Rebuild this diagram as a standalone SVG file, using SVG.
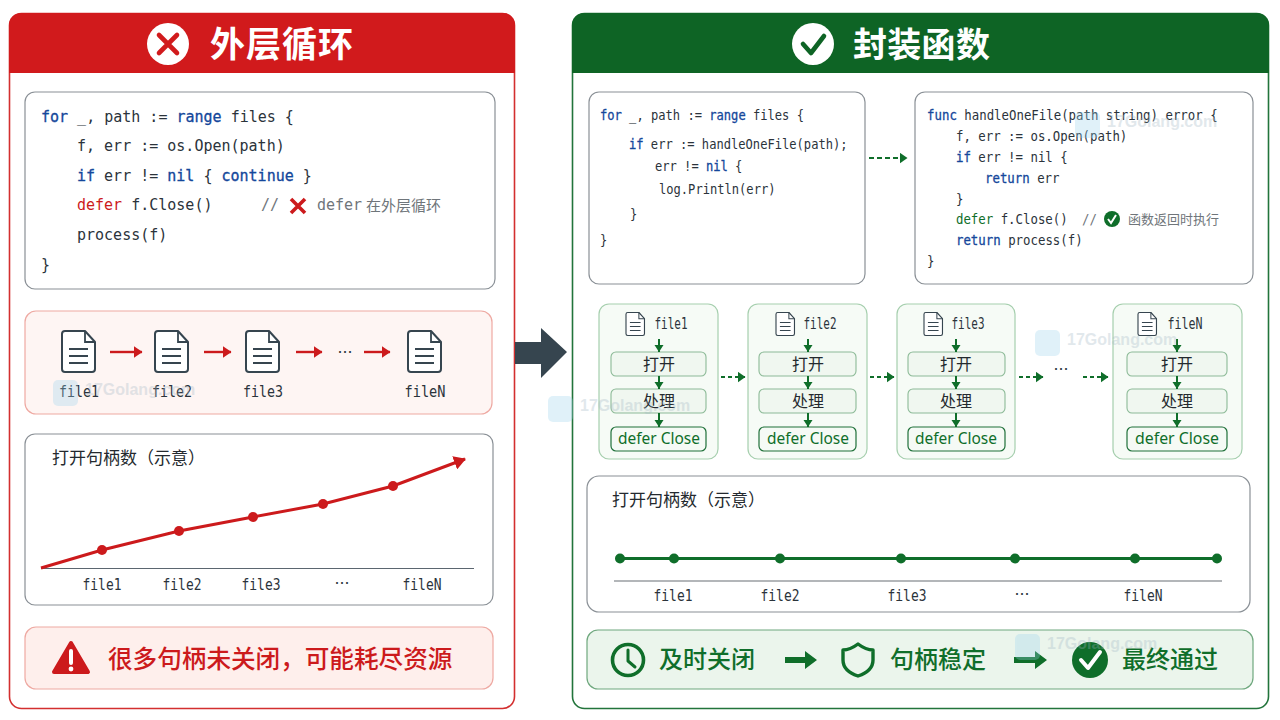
<svg xmlns="http://www.w3.org/2000/svg" width="1280" height="720" viewBox="0 0 1280 720">
<defs>
<style>
text{font-family:"Liberation Sans","Noto Sans CJK SC",sans-serif;fill:#24292e}
.cjk{font-family:"Noto Sans CJK SC",sans-serif}
.title{font-family:"Noto Sans CJK SC",sans-serif;font-size:35px;font-weight:700;fill:#fff;letter-spacing:1px}
.code text{font-family:"DejaVu Sans Mono",monospace;font-size:15px;fill:#2b333b}
.cr text{font-family:"DejaVu Sans Mono",monospace;font-size:14px;fill:#2b333b}
.kw{fill:#14479b!important;stroke:#14479b;stroke-width:.3}
.rd{fill:#cc1a1c!important}
.gk{fill:#0f6e2a!important}
.cm{fill:#6f757a!important}
.lbl{font-family:"DejaVu Sans Mono",monospace;font-size:15px;text-anchor:middle;fill:#2b333b}
.dots{font-family:"Noto Sans CJK SC",sans-serif;font-size:15px;text-anchor:middle;fill:#2b333b}
.box{fill:#fff;stroke:#8a9096;stroke-width:1.200}
.card{fill:#f6fbf6;stroke:#a6cfae;stroke-width:1.200}
.step{fill:#f0f7f0;stroke:#8cba97;stroke-width:1.100}
.stepd{fill:#f5faf5;stroke:#1f7039;stroke-width:1.200}
.st{font-family:"Noto Sans CJK SC",sans-serif;font-size:16px;text-anchor:middle;fill:#24292e}
.dc{font-family:"Noto Sans",sans-serif;font-size:17px;text-anchor:middle;fill:#0f6e2a}
.head{font-family:"Noto Sans CJK SC",sans-serif;font-size:17px;fill:#24292e}
.big{font-family:"Noto Sans CJK SC",sans-serif;font-size:24px;font-weight:500;fill:#0f6e2a}
.doc{fill:#fff;stroke:#36454f;stroke-width:2;stroke-linejoin:round}
.docl{fill:none;stroke:#36454f;stroke-width:1.800}
.ra{stroke:#cc1a1c;stroke-width:2.400;fill:none}
.gd{stroke:#0f6e2a;stroke-width:2;fill:none}
.wmt{font-family:"Liberation Sans",sans-serif;font-size:16px;font-weight:700;fill:#9fb4c2}
</style>
<marker id="mr" markerUnits="userSpaceOnUse" markerWidth="12" markerHeight="14" refX="11" refY="7" orient="auto"><path d="M0 0L12 7L0 14Z" fill="#cc1a1c"/></marker>
<marker id="mrs" markerUnits="userSpaceOnUse" markerWidth="9" markerHeight="12" refX="8.500" refY="6" orient="auto"><path d="M0 0L9 6L0 12Z" fill="#cc1a1c"/></marker>
<marker id="mg" markerUnits="userSpaceOnUse" markerWidth="8" markerHeight="11" refX="7.500" refY="5.500" orient="auto"><path d="M0 0L8 5.500L0 11Z" fill="#0f6e2a"/></marker>
<g id="doc"><path class="doc" d="M3 0H23L33 11V38a3 3 0 0 1-3 3H3a3 3 0 0 1-3-3V3a3 3 0 0 1 3-3Z"/><path class="docl" d="M23 0V11H33M7 18H26M7 25H26M7 32H26"/></g>
<g id="wm" opacity=".3"><rect x="0" y="0" width="25" height="26" rx="5" fill="#9ad4ee"/><text class="wmt" x="32" y="15">17Golang.com</text></g>
</defs>
<rect width="1280" height="720" fill="#fff"/>

<g id="left-panel">
<rect x="9.500" y="13.500" width="505" height="695" rx="12" fill="#fff" stroke="#d32f2f" stroke-width="1.600"/>
<path d="M9 73V25a12 12 0 0 1 12-12H503a12 12 0 0 1 12 12V73Z" fill="#d11a1c"/>
<circle cx="168" cy="44" r="21" fill="#fff"/>
<path d="M159 35L177 53M177 35L159 53" stroke="#d11a1c" stroke-width="4.600" stroke-linecap="round"/>
<text class="title" x="210" y="57">外层循环</text>
</g>

<g id="left-code">
<rect class="box" x="25" y="92" width="470" height="197" rx="10"/>
<g class="code">
<text x="41" y="122"><tspan class="kw">for</tspan> _, path := <tspan class="kw">range</tspan> files {</text>
<text x="77" y="151">f, err := os.Open(path)</text>
<text x="77" y="181"><tspan class="kw">if</tspan> err != <tspan class="kw">nil</tspan> { <tspan class="kw">continue</tspan> }</text>
<text x="77" y="210"><tspan class="rd">defer</tspan> f.Close()</text>
<text x="261" y="210"><tspan class="cm">//</tspan></text>
<text x="317" y="210"><tspan class="cm">defer</tspan></text>
<text x="77" y="240">process(f)</text>
<text x="41" y="270">}</text>
</g>
<path d="M291 199L305 213M305 199L291 213" stroke="#cc1a1c" stroke-width="3.600"/>
<text class="cjk cm" x="366" y="211" font-size="15">在外层循环</text>
</g>

<g id="left-files">
<rect x="25" y="311" width="467" height="103" rx="11" fill="#fef5f3" stroke="#eea9a2" stroke-width="1.200"/>
<use href="#doc" x="62" y="331"/><use href="#doc" x="155" y="331"/><use href="#doc" x="246" y="331"/><use href="#doc" x="408" y="331"/>
<text class="lbl" x="79" y="397" textLength="40" lengthAdjust="spacingAndGlyphs">file1</text>
<text class="lbl" x="172" y="397" textLength="40" lengthAdjust="spacingAndGlyphs">file2</text>
<text class="lbl" x="263" y="397" textLength="40" lengthAdjust="spacingAndGlyphs">file3</text>
<text class="lbl" x="425" y="397" textLength="41" lengthAdjust="spacingAndGlyphs">fileN</text>
<text class="dots" x="345" y="358">…</text>
</g>

<g id="left-chart">
<rect class="box" x="25" y="434" width="468" height="171" rx="10"/>
<text class="head" x="52" y="464">打开句柄数（示意）</text>
<path d="M41 568.500H474" stroke="#5b6670" stroke-width="1.200"/>
<path d="M41 568L102 550L179 531L253 517L323 504L393 486L465 459" fill="none" stroke="#cc1a1c" stroke-width="3" marker-end="url(#mr)"/>
<g fill="#cc1a1c"><circle cx="102" cy="550" r="5"/><circle cx="179" cy="531" r="5"/><circle cx="253" cy="517" r="5"/><circle cx="323" cy="504" r="5"/><circle cx="393" cy="486" r="5"/></g>
<text class="lbl" x="102" y="590" textLength="39" lengthAdjust="spacingAndGlyphs">file1</text>
<text class="lbl" x="182" y="590" textLength="39" lengthAdjust="spacingAndGlyphs">file2</text>
<text class="lbl" x="261" y="590" textLength="39" lengthAdjust="spacingAndGlyphs">file3</text>
<text class="dots" x="342" y="589">…</text>
<text class="lbl" x="422" y="590" textLength="39" lengthAdjust="spacingAndGlyphs">fileN</text>
</g>

<g id="left-alert">
<rect x="25" y="627" width="468" height="62" rx="11" fill="#feefec" stroke="#eea9a2" stroke-width="1.200"/>
<path d="M71 643L88 672H54Z" fill="#cc1a1c" stroke="#cc1a1c" stroke-width="4" stroke-linejoin="round"/>
<path d="M71 651V663" stroke="#fff" stroke-width="4" stroke-linecap="round"/><circle cx="71" cy="669" r="2.400" fill="#fff"/>
<text class="cjk rd" x="108" y="668" font-size="24.600" font-weight="500">很多句柄未关闭，可能耗尽资源</text>
</g>

<g id="big-arrow"><path d="M515 342H541V328L567 352L541 378V364H515Z" fill="#36454f"/></g>

<g id="right-panel">
<rect x="572.500" y="13.500" width="696" height="695" rx="12" fill="#fff" stroke="#22743b" stroke-width="1.600"/>
<path d="M572 73V25a12 12 0 0 1 12-12H1257a12 12 0 0 1 12 12V73Z" fill="#0e6425"/>
<circle cx="813" cy="44" r="21" fill="#fff"/>
<path d="M803 44L811 53L824 36" fill="none" stroke="#0e6425" stroke-width="4.600" stroke-linecap="round" stroke-linejoin="round"/>
<text class="title" x="853" y="57" style="font-size:34px;letter-spacing:.3px">封装函数</text>
</g>

<g id="right-code-loop">
<rect class="box" x="589" y="92" width="276" height="192" rx="10"/>
<g class="cr" transform="scale(.865 1)">
<text x="693.600" y="120"><tspan class="kw">for</tspan> _, path := <tspan class="kw">range</tspan> files {</text>
<text x="727.200" y="149"><tspan class="kw">if</tspan> err := handleOneFile(path);</text>
<text x="757.200" y="171">err != <tspan class="kw">nil</tspan> {</text>
<text x="761.800" y="194">log.Println(err)</text>
<text x="728.300" y="219">}</text>
<text x="693.600" y="245">}</text>
</g>
</g>

<g id="right-code-func">
<rect class="box" x="915" y="92" width="338" height="192" rx="10"/>
<g class="cr" transform="scale(.885 1)">
<text x="1047.500" y="120"><tspan class="kw">func</tspan> handleOneFile(path string) error {</text>
<text x="1080.200" y="141">f, err := os.Open(path)</text>
<text x="1080.200" y="162"><tspan class="kw">if</tspan> err != nil {</text>
<text x="1113" y="183"><tspan class="kw">return</tspan> err</text>
<text x="1080.200" y="204">}</text>
<text x="1080.200" y="224"><tspan class="gk">defer</tspan> f.Close()</text>
<text x="1222.600" y="224"><tspan class="cm">//</tspan></text>
<text x="1080.200" y="245"><tspan class="kw">return</tspan> process(f)</text>
<text x="1047.500" y="266">}</text>
</g>
<circle cx="1112" cy="219" r="8" fill="#0f6e2a"/>
<path d="M1108 219L1111 223L1116 215" fill="none" stroke="#fff" stroke-width="2"/>
<text class="cjk cm" x="1128" y="224" font-size="13">函数返回时执行</text>
</g>

<g id="card-file1">
<rect class="card" x="599" y="304" width="119" height="155" rx="10"/>
<use href="#doc" transform="translate(626 312.500) scale(.56)"/>
<text class="lbl" x="671" y="329" textLength="33" lengthAdjust="spacingAndGlyphs">file1</text>
<rect class="step" x="611" y="352" width="95" height="24" rx="5"/><text class="st" x="659" y="370">打开</text>
<rect class="step" x="611" y="389" width="95" height="24" rx="5"/><text class="st" x="659" y="407">处理</text>
<rect class="stepd" x="611" y="427" width="95" height="24" rx="5"/><text class="dc" x="659" y="444" textLength="82" lengthAdjust="spacingAndGlyphs">defer Close</text>
</g>
<g id="card-file2">
<rect class="card" x="748" y="304" width="119" height="155" rx="10"/>
<use href="#doc" transform="translate(776 312.500) scale(.56)"/>
<text class="lbl" x="820" y="329" textLength="33" lengthAdjust="spacingAndGlyphs">file2</text>
<rect class="step" x="759" y="352" width="97" height="24" rx="5"/><text class="st" x="808" y="370">打开</text>
<rect class="step" x="759" y="389" width="97" height="24" rx="5"/><text class="st" x="808" y="407">处理</text>
<rect class="stepd" x="759" y="427" width="97" height="24" rx="5"/><text class="dc" x="808" y="444" textLength="82" lengthAdjust="spacingAndGlyphs">defer Close</text>
</g>
<g id="card-file3">
<rect class="card" x="897" y="304" width="118" height="155" rx="10"/>
<use href="#doc" transform="translate(924 312.500) scale(.56)"/>
<text class="lbl" x="968" y="329" textLength="33" lengthAdjust="spacingAndGlyphs">file3</text>
<rect class="step" x="908" y="352" width="97" height="24" rx="5"/><text class="st" x="956" y="370">打开</text>
<rect class="step" x="908" y="389" width="97" height="24" rx="5"/><text class="st" x="956" y="407">处理</text>
<rect class="stepd" x="908" y="427" width="97" height="24" rx="5"/><text class="dc" x="956" y="444" textLength="82" lengthAdjust="spacingAndGlyphs">defer Close</text>
</g>
<g id="card-fileN">
<rect class="card" x="1113" y="304" width="129" height="155" rx="10"/>
<use href="#doc" transform="translate(1138 312.500) scale(.56)"/>
<text class="lbl" x="1185" y="329" textLength="35" lengthAdjust="spacingAndGlyphs">fileN</text>
<rect class="step" x="1127" y="352" width="100" height="24" rx="5"/><text class="st" x="1177" y="370">打开</text>
<rect class="step" x="1127" y="389" width="100" height="24" rx="5"/><text class="st" x="1177" y="407">处理</text>
<rect class="stepd" x="1127" y="427" width="100" height="24" rx="5"/><text class="dc" x="1177" y="444" textLength="84" lengthAdjust="spacingAndGlyphs">defer Close</text>
</g>
<text class="dots" x="1061" y="375">…</text>

<g id="right-chart">
<rect class="box" x="587" y="476" width="663" height="136" rx="12"/>
<text class="head" x="612" y="506">打开句柄数（示意）</text>
<path d="M614 581H1222" stroke="#9a9ea2" stroke-width="1.400"/>
<path d="M620 558.500H1217" stroke="#0f6e2a" stroke-width="3"/>
<g fill="#0f6e2a"><circle cx="620" cy="558.500" r="5"/><circle cx="674" cy="558.500" r="5"/><circle cx="780" cy="558.500" r="5"/><circle cx="901" cy="558.500" r="5"/><circle cx="1015" cy="558.500" r="5"/><circle cx="1135" cy="558.500" r="5"/><circle cx="1217" cy="558.500" r="5"/></g>
<text class="lbl" x="673" y="601" textLength="39" lengthAdjust="spacingAndGlyphs">file1</text>
<text class="lbl" x="780" y="601" textLength="39" lengthAdjust="spacingAndGlyphs">file2</text>
<text class="lbl" x="907" y="601" textLength="39" lengthAdjust="spacingAndGlyphs">file3</text>
<text class="dots" x="1022" y="600">…</text>
<text class="lbl" x="1143" y="601" textLength="39" lengthAdjust="spacingAndGlyphs">fileN</text>
</g>

<g id="right-result">
<rect x="587" y="630" width="666" height="59" rx="11" fill="#ebf5ec" stroke="#6fa87e" stroke-width="1.200"/>
<circle cx="628" cy="660" r="15.500" fill="none" stroke="#0f6e2a" stroke-width="3.600"/>
<path d="M628 650V661L635 667" fill="none" stroke="#0f6e2a" stroke-width="3" stroke-linecap="round" stroke-linejoin="round"/>
<text class="big" x="659" y="668">及时关闭</text>
<path d="M858 644Q866 650 873 650V660Q873 671 858 676Q843 671 843 660V650Q850 650 858 644Z" fill="none" stroke="#0f6e2a" stroke-width="3.400" stroke-linejoin="round"/>
<text class="big" x="890" y="668">句柄稳定</text>
<circle cx="1090" cy="660" r="18" fill="#0f6e2a"/>
<path d="M1081 660L1088 668L1100 652" fill="none" stroke="#fff" stroke-width="4" stroke-linecap="round" stroke-linejoin="round"/>
<text class="big" x="1122" y="668">最终通过</text>
</g>

<g id="connectors">
<path class="ra" d="M110 352H142" marker-end="url(#mrs)"/><path class="ra" d="M204 352H231" marker-end="url(#mrs)"/><path class="ra" d="M296 352H322" marker-end="url(#mrs)"/><path class="ra" d="M364 352H390" marker-end="url(#mrs)"/>
<path class="gd" d="M869 158H907" stroke-dasharray="5 3" marker-end="url(#mg)"/>
<path class="gd" d="M721 377H745" stroke-dasharray="4 3" marker-end="url(#mg)"/><path class="gd" d="M870 377H894" stroke-dasharray="4 3" marker-end="url(#mg)"/><path class="gd" d="M1019 377H1043" stroke-dasharray="4 3" marker-end="url(#mg)"/><path class="gd" d="M1083 377H1108" stroke-dasharray="4 3" marker-end="url(#mg)"/>
<path class="gd" d="M659 339V352M659 376V389M659 413V427M808 339V352M808 376V389M808 413V427M956 339V352M956 376V389M956 413V427M1177 339V352M1177 376V389M1177 413V427"/>
<path fill="#0f6e2a" d="M654.500 345H663.500L659 352ZM654.500 382H663.500L659 389ZM654.500 420H663.500L659 427ZM803.500 345H812.500L808 352ZM803.500 382H812.500L808 389ZM803.500 420H812.500L808 427ZM951.500 345H960.500L956 352ZM951.500 382H960.500L956 389ZM951.500 420H960.500L956 427ZM1172.500 345H1181.500L1177 352ZM1172.500 382H1181.500L1177 389ZM1172.500 420H1181.500L1177 427Z"/>
<path fill="#0f6e2a" d="M785 657H805V651L817 660L805 669V663H785ZM1014 657H1035V651L1047 660L1035 669V663H1014Z"/>
</g>

<g id="watermarks">
<use href="#wm" x="53" y="380"/><use href="#wm" x="548" y="396"/><use href="#wm" x="1035" y="330"/><use href="#wm" x="1015" y="634"/><use href="#wm" x="1075" y="112"/>
</g>
</svg>
